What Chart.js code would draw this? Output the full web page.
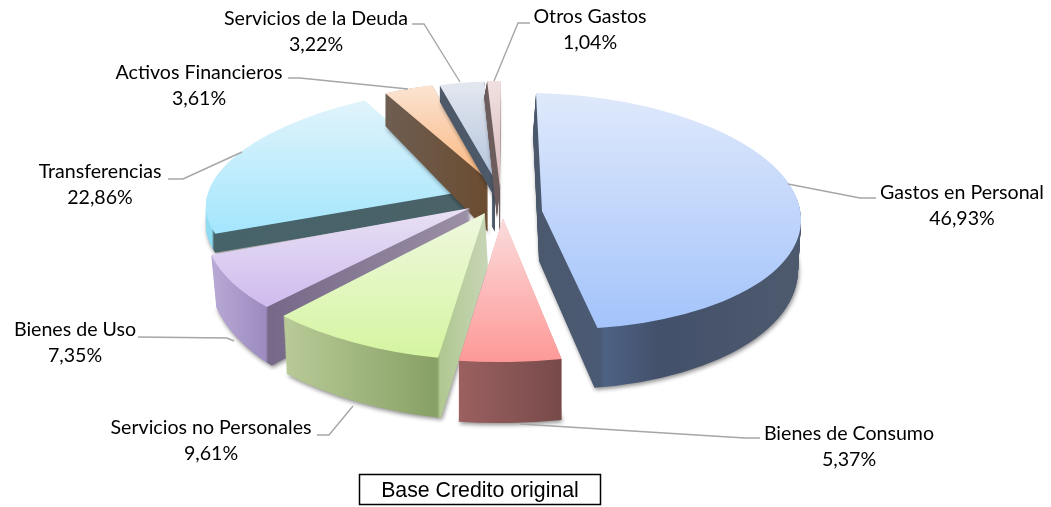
<!DOCTYPE html>
<html><head><meta charset="utf-8">
<style>html,body{margin:0;padding:0;background:#fff}canvas{display:block}</style>
<script src="https://cdn.jsdelivr.net/npm/chart.js@4"></script>
</head><body>
<canvas id="c" width="1051" height="507"></canvas>
<script>
const categories = ["Gastos en Personal","Bienes de Consumo","Servicios no Personales","Bienes de Uso","Transferencias","Activos Financieros","Servicios de la Deuda","Otros Gastos"];
const shares = [46.93,5.37,9.61,7.35,22.86,3.61,3.22,1.04];
const chartTitle = "Base Credito original";

// Styling: per-slice projection of the library's arc on to the tilted plane
// [originX, originY, xAxisX, xAxisY, yAxisX, yAxisY]
const projection = [
 [542,211,259,6,6,118],
 [503,218,307,-2,0,144],
 [485,213,291,7.6,-5,147.5],
 [470,208,265,1,-31,136],
 [467,191,260,-5.7,-24,106],
 [488,180,222,1,-3,98],
 [495,180,224,-3,-4,99],
 [500,188,212,3,-1,107]
];
// [depth, depth change along y axis, horizontal lean, stem depth]
const extrusion = [[50,10,-3,0],[61,0,0,0],[52,8,3,0],[45,19,5,0],[19,0,0,0],[52,22,0,0],[18,2,0,52],[30,14,-3,44]];
const topColors = [["#dfe9fb","#a3c3fb",93,330],["#fbdcdc","#fd9a98",218,360],["#eff8df","#d5f5a0",213,358],["#e8e1f4","#cfbbee",208,307],["#e1f4fb","#a3e6fd",100,234],["#fbe4d3","#fbb67d",85,180],["#e4e8f0","#b3c3dc",81,180],["#f1e0e0","#d8baba",81,190]];
const wallStops = [
 [[533,"#4b586c"],[600,"#4b5a74"],[604,"#4d6285"],[660,"#43506a"],[800,"#4d5a6e"]],
 [[459,"#9b6060"],[562,"#774a4a"]],
 [[283,"#b9cb98"],[437,"#87a065"],[440,"#b0c790"],[485,"#c6d5b4"]],
 [[211,"#b9a9d6"],[266,"#9c8bbf"],[268,"#766888"],[470,"#9b90a5"]],
 [[206,"#8fdcf2"],[212,"#8fdcf2"],[214,"#47636a"],[467,"#4a6268"]],
 [[385,"#6e5e52"],[488,"#6b4c30"]],
 [[439,"#4d5868"],[497,"#4d5868"]],
 [[484,"#6d5c5c"],[503,"#6d5c5c"]]
];
const paintOrder = [4,5,6,7,0,3,2,1];
const stemScale = 0.06;
// Callout layout: [centreX, firstLineY, leader points...]
const callouts = [
 [962,193,[[876,198],[860,198],[788,184]]],
 [849,434,[[760,438],[745,438],[520,424]]],
 [211,428,[[317,435],[329,435],[353,406]]],
 [75,330,[[138,337],[227,338],[234,341]]],
 [100,172,[[168,179],[183,179],[242,152]]],
 [199,73,[[288,78],[300,78],[408,89]]],
 [316,19,[[412,24],[424,24],[460,82]]],
 [590,17,[[530,23],[518,23],[494,81]]]
];
const labelFont = '19.6px Lato, "Noto Sans", sans-serif';

function axisGradient(ctx, arc, m, r, axis, v0, v1) {
  // gradient in the arc's local space that runs along a page axis
  const C = (axis === 'y' ? m[3] : m[2]) / r, D = (axis === 'y' ? m[5] : m[4]) / r;
  const org = axis === 'y' ? m[1] : m[0], n = C*C + D*D;
  const pt = v => [arc.x + (v-org)*C/n, arc.y + (v-org)*D/n];
  const a = pt(v0), b = pt(v1);
  return ctx.createLinearGradient(a[0],a[1],b[0],b[1]);
}
function drawLayer(ctx, arc, m, r, fillFn) {
  ctx.save();
  ctx.transform(m[2]/r, m[3]/r, m[4]/r, m[5]/r, m[0], m[1]);
  ctx.translate(-arc.x, -arc.y);
  const orig = arc.options;
  arc.options = Object.create(orig, {backgroundColor:{value:fillFn()}});
  arc.draw(ctx);
  arc.options = orig;
  ctx.restore();
}
function wallFill(ctx, arc, m, r, i) {
  const st = wallStops[i], x0 = st[0][0], x1 = st[st.length-1][0];
  const g = axisGradient(ctx, arc, m, r, 'x', x0, x1);
  st.forEach(s => g.addColorStop((s[0]-x0)/(x1-x0), s[1]));
  return g;
}
const tiltedPie = {
  id:'tiltedPie',
  beforeDatasetsDraw(chart) {
    const ctx = chart.ctx, arcs = chart.getDatasetMeta(0).data;
    paintOrder.forEach(i => {
      const arc = arcs[i], r = arc.outerRadius, p = projection[i], [dep,grow,lean,stem] = extrusion[i];
      for (let k = stem; k >= 1; k--) {
        const m = [p[0], p[1]+k, p[2]*stemScale, p[3]*stemScale, p[4]*stemScale, p[5]*stemScale];
        drawLayer(ctx, arc, m, r, () => wallFill(ctx, arc, m, r, i));
      }
      const total = Math.ceil(dep + Math.abs(grow));
      for (let k = total; k >= 1; k--) {
        const t = k/total;
        const m = [p[0]+lean*t, p[1]+dep*t, p[2], p[3], p[4], p[5]+grow*t];
        if (k === total) { ctx.shadowColor='rgba(0,0,0,0.45)'; ctx.shadowBlur=4; ctx.shadowOffsetY=2; ctx.shadowOffsetX=1; }
        drawLayer(ctx, arc, m, r, () => wallFill(ctx, arc, m, r, i));
        ctx.shadowColor='transparent'; ctx.shadowBlur=0; ctx.shadowOffsetY=0; ctx.shadowOffsetX=0;
      }
      drawLayer(ctx, arc, p, r, () => {
        const c = topColors[i], g = axisGradient(ctx, arc, p, r, 'y', c[2], c[3]);
        g.addColorStop(0,c[0]); g.addColorStop(1,c[1]);
        return g;
      });
    });
    return false;
  },
  afterDraw(chart) {
    const ctx = chart.ctx;
    ctx.save();
    ctx.strokeStyle='#a6a6a6'; ctx.lineWidth=1.4;
    callouts.forEach(c => {
      ctx.beginPath();
      c[2].forEach((q,j) => j ? ctx.lineTo(q[0],q[1]) : ctx.moveTo(q[0],q[1]));
      ctx.stroke();
    });
    ctx.fillStyle='#000'; ctx.font=labelFont; ctx.textAlign='center'; ctx.textBaseline='middle';
    categories.forEach((name,i) => {
      const c = callouts[i];
      ctx.fillText(name, c[0], c[1]);
      ctx.fillText(shares[i].toFixed(2).replace('.',',')+'%', c[0], c[1]+26);
    });
    ctx.strokeStyle='#000'; ctx.lineWidth=1.5;
    ctx.strokeRect(359.5,474.5,241,30);
    ctx.font='21.3px "Liberation Sans", Arial, sans-serif';
    ctx.fillText(chartTitle, 480, 491);
    ctx.restore();
  }
};
new Chart(document.getElementById('c'), {
  type:'pie',
  data:{labels:categories,datasets:[{data:shares,backgroundColor:topColors.map(c=>c[1]),borderWidth:0}]},
  options:{responsive:false,animation:false,layout:{padding:0},
    plugins:{legend:{display:false},tooltip:{enabled:false}}},
  plugins:[tiltedPie]
});
</script>
</body></html>
